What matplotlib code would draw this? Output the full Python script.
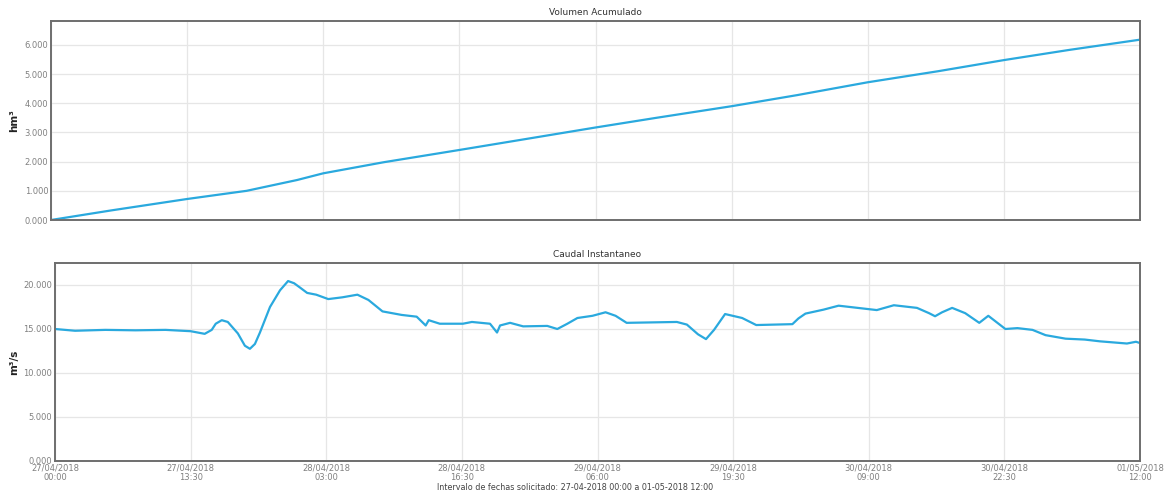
import matplotlib
matplotlib.use("Agg")
import matplotlib.pyplot as plt
import pandas as pd
from matplotlib.ticker import FuncFormatter

start = pd.Timestamp("2018-04-27 00:00")

# Volumen acumulado (hm3) -- hours from start, values
vol_hours = [0, 6, 13.5, 19.4, 24.4, 27, 33, 40.5, 47, 54, 60, 67.5, 74, 81, 88, 94.5, 101, 108]
vol_vals = [0.0, 0.33, 0.72, 1.0, 1.37, 1.6, 1.98, 2.4, 2.77, 3.17, 3.5, 3.9, 4.28, 4.72, 5.1, 5.48, 5.83, 6.18]

# Caudal instantaneo (m3/s)
q_hours = [0, 2, 5, 8, 11, 13.5, 14.9, 15.6, 16.0, 16.6, 17.2, 18.2, 18.9, 19.4, 19.9, 20.4, 21.4,
           22.4, 23.2, 23.8, 24.4, 25.1, 26.0, 27.2, 28.6, 30.1, 31.2, 32.6, 34.5, 36, 36.9, 37.2,
           38.3, 40.6, 41.5, 43.3, 44.0, 44.3, 45.3, 46.6, 49.0, 50.0, 51.0, 52.0, 53.5, 54.8,
           55.8, 56.9, 61.9, 62.9, 64.0, 64.8, 65.6, 66.7, 68.4, 69.8, 73.4, 74.0, 74.7, 76.5,
           78.0, 81.8, 83.5, 85.8, 87.0, 87.6, 88.3, 89.3, 90.6, 92.0, 92.9, 94.6, 95.8, 97.3,
           98.6, 100.6, 102.5, 104.0, 106.7, 107.6, 108]
q_vals = [15.0, 14.8, 14.9, 14.85, 14.9, 14.75, 14.45, 14.9, 15.6, 16.0, 15.8, 14.5, 13.1, 12.75,
          13.3, 14.6, 17.5, 19.4, 20.45, 20.2, 19.7, 19.1, 18.9, 18.4, 18.6, 18.9, 18.3, 17.0,
          16.6, 16.4, 15.4, 16.0, 15.6, 15.6, 15.8, 15.6, 14.6, 15.4, 15.7, 15.3, 15.35, 15.0,
          15.6, 16.25, 16.5, 16.9, 16.5, 15.7, 15.8, 15.5, 14.4, 13.85, 14.9, 16.7, 16.25,
          15.45, 15.55, 16.2, 16.75, 17.2, 17.65, 17.15, 17.7, 17.4, 16.8, 16.45, 16.9, 17.4,
          16.8, 15.7, 16.5, 15.0, 15.1, 14.9, 14.3, 13.9, 13.8, 13.6, 13.35, 13.55, 13.4]

tick_hours = [0, 13.5, 27, 40.5, 54, 67.5, 81, 94.5, 108]
vol_ticks = [0, 1, 2, 3, 4, 5, 6]
q_ticks = [0, 5, 10, 15, 20]

vol_t = [start + pd.Timedelta(hours=h) for h in vol_hours]
q_t = [start + pd.Timedelta(hours=h) for h in q_hours]
ticks_t = [start + pd.Timedelta(hours=h) for h in tick_hours]

W, H = 1169, 492
fig = plt.figure(figsize=(W / 100, H / 100), dpi=100)
fig.patch.set_facecolor("white")

line_color = "#2aa9de"
grid_color = "#e6e6e6"
spine_color = "#6e6e6e"
tick_color = "#808080"

def px(l, t, r, b):
    return [l / W, 1 - b / H, (r - l) / W, (b - t) / H]

ax1 = fig.add_axes(px(51, 21, 1140, 220))
ax2 = fig.add_axes(px(55, 263, 1140, 461))

fmt3 = FuncFormatter(lambda v, p: f"{v:.3f}")

for ax in (ax1, ax2):
    ax.set_xlim(ticks_t[0], ticks_t[-1])
    ax.set_xticks(ticks_t)
    ax.grid(True, color=grid_color, linewidth=0.9)
    ax.set_axisbelow(True)
    for s in ax.spines.values():
        s.set_color(spine_color)
        s.set_linewidth(1.4)
    ax.tick_params(length=0, colors=tick_color, labelsize=6, pad=2)
    ax.yaxis.set_major_formatter(fmt3)

ax1.plot(vol_t, vol_vals, color=line_color, linewidth=1.6, solid_joinstyle="round")
ax1.set_ylim(0, 6.82)
ax1.set_yticks(vol_ticks)
ax1.set_xticklabels([])
ax1.set_title("Volumen Acumulado", fontsize=6.5, color="#333333", pad=4)
ax1.set_ylabel("hm³", fontsize=7.5, fontweight="bold", color="#222222", labelpad=4)

ax2.plot(q_t, q_vals, color=line_color, linewidth=1.6, solid_joinstyle="round")
ax2.set_ylim(0, 22.5)
ax2.set_yticks(q_ticks)
ax2.set_xticklabels([t.strftime("%d/%m/%Y\n%H:%M") for t in ticks_t],
                    fontsize=6, linespacing=1.1)
ax2.set_title("Caudal Instantaneo", fontsize=6.5, color="#333333", pad=4)
ax2.set_ylabel("m³/s", fontsize=7.5, fontweight="bold", color="#222222", labelpad=3)

fig.text(575 / W, 1 - 491.5 / H, "Intervalo de fechas solicitado: 27-04-2018 00:00 a 01-05-2018 12:00",
         ha="center", va="bottom", fontsize=5.8, color="#444444")

fig.savefig("out.png", dpi=100, facecolor="white")
